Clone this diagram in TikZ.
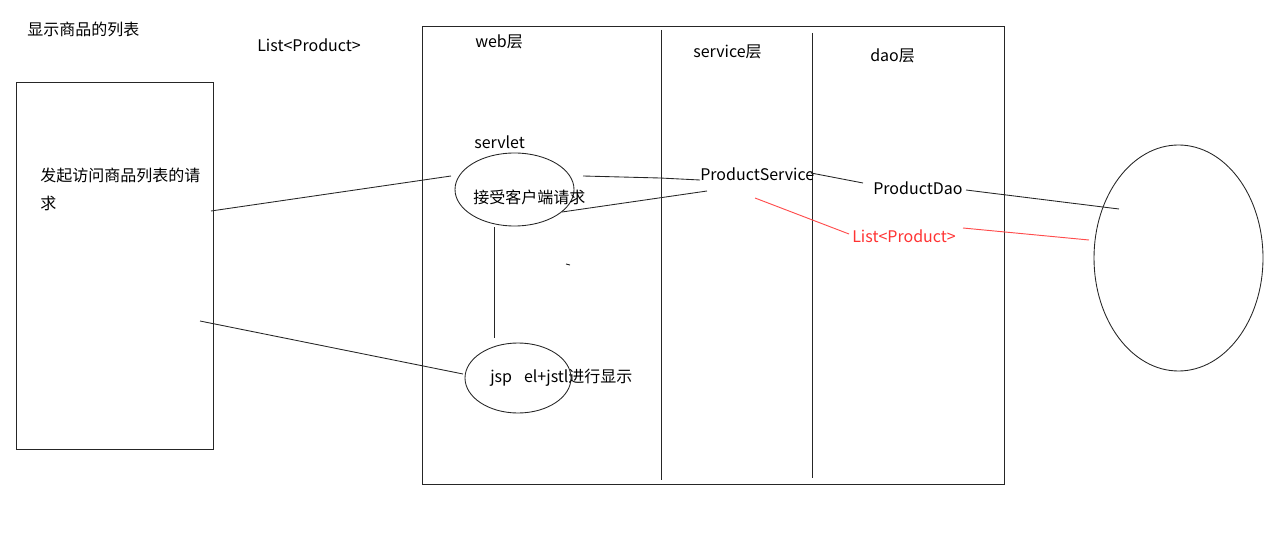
\documentclass[tikz,border=0pt]{standalone}
\usepackage{fontspec}
\setmainfont{Noto Sans CJK SC}
\usetikzlibrary{shapes.geometric}
\begin{document}
\begin{tikzpicture}[x=0.75pt,y=-0.75pt,
  ln/.style={draw=black!85,line width=0.65pt},
  rl/.style={draw=red!70!white,line width=0.7pt},
  txt/.style={inner sep=0pt,anchor=west,font=\fontsize{12}{14}\selectfont},
]
\useasboundingbox (0,0) rectangle (1277,538);
% boxes
\node[ln,draw,rectangle,minimum width=197*0.75pt,minimum height=367*0.75pt,inner sep=0pt] (client) at (114.5,265.5) {};
\node[ln,draw,rectangle,minimum width=582*0.75pt,minimum height=458*0.75pt,inner sep=0pt] (server) at (713,255) {};
\coordinate (v1t) at (661,30); \coordinate (v1b) at (661,480);
\coordinate (v2t) at (812,33); \coordinate (v2b) at (812,478);
\draw[ln] (v1t) -- (v1b);
\draw[ln] (v2t) -- (v2b);
% ellipses
\node[ln,draw,ellipse,minimum width=119*0.75pt,minimum height=73*0.75pt,inner sep=0pt] (servlet) at (514.5,189.5) {};
\node[ln,draw,ellipse,minimum width=106*0.75pt,minimum height=70*0.75pt,inner sep=0pt] (jsp) at (518,378) {};
\node[ln,draw,ellipse,minimum width=169*0.75pt,minimum height=226*0.75pt,inner sep=0pt] (db) at (1178.5,258) {};
% texts
\node[txt] (title) at (27,29) {显示商品的列表};
\node[txt] (list1) at (257,45) {List<Product>};
\node[txt] (req1) at (40,175) {发起访问商品列表的请};
\node[txt] (req2) at (40,203) {求};
\node[txt] (web) at (475,42) {web层};
\node[txt] (svc) at (693,52) {service层};
\node[txt] (dao) at (870,56) {dao层};
\node[txt] (servletlbl) at (474,142) {servlet};
\node[txt] (recv) at (473,197) {接受客户端请求};
\node[txt] (ps) at (700,174) {ProductService};
\node[txt] (pd) at (873,188) {ProductDao};
\node[txt,text=red!80!white] (list2) at (852,236) {List<Product>};
\node[txt] (jsptxt) at (490,378) {jsp\hspace{0.75em}el+jstl进行显示};
% connectors
\coordinate (a1) at (211,211); \coordinate (a2) at (451,176);
\draw[ln] (a1) -- (a2);
\coordinate (b1) at (583,176); \coordinate (b2) at (660,178); \coordinate (b3) at (700,180);
\draw[ln] (b1) -- (b2) -- (b3);
\coordinate (c1) at (707,191); \coordinate (c2) at (562,212);
\draw[ln] (c1) -- (c2);
\coordinate (d1) at (566,264); \coordinate (d2) at (570,265);
\draw[ln] (d1) -- (d2);
\coordinate (e1) at (494,227); \coordinate (e2) at (494,338);
\draw[ln] (e1) -- (e2);
\coordinate (f1) at (200,321); \coordinate (f2) at (463,374);
\draw[ln] (f1) -- (f2);
\coordinate (g1) at (811,173); \coordinate (g2) at (863,183);
\draw[ln] (g1) -- (g2);
\coordinate (h1) at (966,190); \coordinate (h2) at (1119,209);
\draw[ln] (h1) -- (h2);
\coordinate (r1) at (755,198); \coordinate (r2) at (849,234);
\draw[rl] (r1) -- (r2);
\coordinate (s1) at (963,228); \coordinate (s2) at (1089,240);
\draw[rl] (s1) -- (s2);
\end{tikzpicture}
\end{document}
